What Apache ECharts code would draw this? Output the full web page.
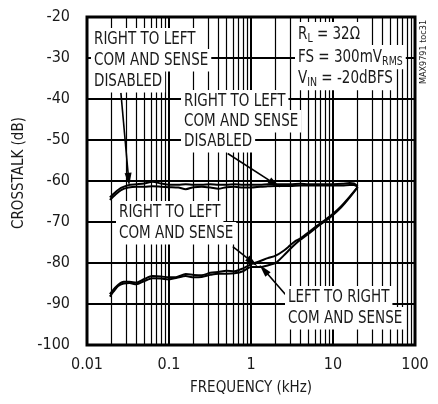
<!DOCTYPE html>
<html>
<head>
<meta charset="utf-8">
<script src="https://cdn.jsdelivr.net/npm/echarts@6/dist/echarts.min.js"></script>
<style>
html,body{margin:0;padding:0;background:#fff;}
#c{width:438px;height:404px;}
</style>
</head>
<body>
<div id="c"></div>
<script>
// ---- data (frequency in kHz, crosstalk in dB) ----
const freqUpper = [0.019,0.022,0.026,0.032,0.04,0.05,0.063,0.08,0.1,0.13,0.16,0.2,0.25,0.32,0.4,0.5,0.63,0.8,1,1.3,1.6,2,3,4,5,7,10,13,16,18,20];
const upperA = [-64.0,-62.8,-61.7,-61.0,-60.8,-60.6,-60.2,-60.6,-60.9,-60.9,-60.8,-60.9,-60.9,-60.8,-60.9,-60.9,-60.8,-60.9,-60.9,-60.9,-60.8,-60.8,-60.8,-60.7,-60.8,-60.8,-60.8,-60.7,-60.5,-60.6,-61.3];
const upperB = [-64.6,-63.4,-62.2,-61.6,-61.4,-61.4,-61.3,-61.4,-61.5,-61.6,-62.0,-61.5,-61.4,-61.6,-61.9,-61.5,-61.4,-61.6,-61.6,-61.4,-61.3,-61.2,-61.2,-61.1,-61.1,-61.1,-61.1,-61.1,-61.0,-61.0,-61.4];
const freqLower = [0.019,0.021,0.024,0.028,0.033,0.04,0.05,0.063,0.08,0.1,0.125,0.16,0.2,0.25,0.32,0.4,0.5,0.63,0.8,1,1.3,1.6,2,2.5,3,3.5,4,5,6.3,8,10,12.5,16,20];
const lowerC = [-87.6,-86.5,-85.3,-84.6,-84.6,-84.8,-83.9,-83.2,-83.3,-83.5,-83.4,-82.7,-82.9,-83.0,-82.4,-82.2,-81.9,-82.0,-81.3,-80.3,-79.5,-78.8,-78.2,-77.0,-75.7,-74.6,-74.0,-72.6,-71.0,-69.5,-68.0,-66.2,-63.8,-61.5];
const lowerD = [-88.2,-87.0,-85.6,-85.0,-84.9,-85.2,-84.4,-83.7,-83.8,-84.0,-83.6,-83.2,-83.5,-83.4,-82.9,-82.6,-82.6,-82.5,-82.0,-81.0,-81.0,-80.6,-80.0,-78.2,-76.6,-75.3,-74.3,-72.9,-71.3,-69.8,-68.3,-66.5,-64.0,-61.5];
const xTickLabels = ['0.01','0.1','1','10','100'];
const yTicks = [-100,-90,-80,-70,-60,-50,-40,-30,-20];
const decades = [0.01,0.1,1,10];
const minorMultipliers = [2,3,4,5,6,7,8,9];

const FONT = '"Liberation Sans Narrow","DejaVu Sans Condensed","Arial Narrow",sans-serif';
const INK = '#1a1a1a';

const zip = (xs, ys) => xs.map((x, i) => [x, ys[i]]);
const minorX = [];
decades.forEach(d => minorMultipliers.forEach(m => minorX.push(+(d * m).toPrecision(3))));

const chart = echarts.init(document.getElementById('c'), null, {renderer: 'canvas'});

const curve = (name, data) => ({
  name, type: 'line', data, showSymbol: false, smooth: 0.25, z: 5,
  lineStyle: {color: '#000', width: 2}
});

function lineText(x, y, text, extra) {
  return Object.assign({
    type: 'text', left: x, top: y, z: 50,
    scaleY: 1.18,
    style: {
      text, font: '15px ' + FONT, fill: INK,
      backgroundColor: '#fff', padding: [2, 3, 2, 3]
    }
  }, extra || {});
}
const richSub = {
  n: {fontSize: 15, fontFamily: FONT, lineHeight: 19, color: INK},
  s: {fontSize: 10.5, fontFamily: FONT, lineHeight: 9, verticalAlign: 'bottom', color: INK}
};
function richText(x, y, text) {
  return {
    type: 'text', left: x, top: y, z: 50, scaleY: 1.15,
    style: {text, rich: richSub, backgroundColor: '#fff', padding: [1, 3, 1, 3], fill: INK}
  };
}

const arrowStyle = {color: '#000', width: 1.6, type: 'solid'};

const option = {
  animation: false,
  backgroundColor: '#fff',
  grid: {left: 87, right: 23, top: 17, bottom: 59, show: true, borderColor: '#000', borderWidth: 3, backgroundColor: 'transparent', z: 10},
  xAxis: {
    type: 'log', logBase: 10, min: 0.01, max: 100,
    name: 'FREQUENCY (kHz)', nameLocation: 'middle', nameGap: 36,
    nameTextStyle: {fontFamily: FONT, fontSize: 15, color: INK},
    axisLine: {show: false}, axisTick: {show: false},
    axisLabel: {
      fontFamily: FONT, fontSize: 16, color: INK, margin: 12,
      formatter: v => {
        const i = Math.round(Math.log10(v)) + 2;
        return xTickLabels[i] !== undefined ? xTickLabels[i] : '';
      }
    },
    splitLine: {show: true, lineStyle: {color: '#000', width: 2}}
  },
  yAxis: {
    type: 'value', min: yTicks[0], max: yTicks[yTicks.length - 1], interval: 10,
    name: 'CROSSTALK (dB)', nameLocation: 'middle', nameGap: 58,
    nameTextStyle: {fontFamily: FONT, fontSize: 15, color: INK, padding: [0, 0, 0, 16]},
    axisLine: {show: false}, axisTick: {show: false},
    axisLabel: {fontFamily: FONT, fontSize: 16, color: INK, margin: 17},
    splitLine: {show: true, lineStyle: {color: '#000', width: 2}}
  },
  series: [
    {
      name: 'minorGrid', type: 'line', data: [], z: 1, silent: true,
      markLine: {
        silent: true, symbol: ['none', 'none'], animation: false,
        label: {show: false},
        lineStyle: {color: '#000', width: 1.2, type: 'solid'},
        data: minorX.map(v => ({xAxis: v}))
      }
    },
    curve('R→L disabled A', zip(freqUpper, upperA)),
    curve('R→L disabled B', zip(freqUpper, upperB)),
    curve('R→L COM and SENSE', zip(freqLower, lowerC)),
    curve('L→R COM and SENSE', zip(freqLower, lowerD)),
    {
      name: 'arrows', type: 'line', data: [], z: 6, silent: true,
      markLine: {
        silent: true, animation: false, symbol: ['none', 'triangle'], symbolSize: [7, 13],
        label: {show: false}, lineStyle: arrowStyle,
        data: [
          [{coord: [0.0259, -38.5]}, {coord: [0.0322, -59.6]}],
          [{coord: [0.52, -53.3]}, {coord: [1.95, -60.7]}],
          [{coord: [0.60, -76.0]}, {coord: [1.04, -79.8]}],
          [{coord: [2.8, -88.3]}, {coord: [1.43, -81.6]}]
        ]
      }
    }
  ],
  graphic: [
    lineText(91, 28, 'RIGHT TO LEFT'),
    lineText(91, 49, 'COM AND SENSE'),
    lineText(91, 70, 'DISABLED'),
    lineText(181, 90, 'RIGHT TO LEFT'),
    lineText(181, 110, 'COM AND SENSE'),
    lineText(181, 130, 'DISABLED'),
    richText(295, 22, '{n|R}{s|L}{n| = 32Ω}'),
    richText(295, 45, '{n|FS = 300mV}{s|RMS}'),
    richText(295, 66, '{n|V}{s|IN}{n| = -20dBFS}'),
    lineText(116, 201, 'RIGHT TO LEFT'),
    lineText(116, 222, 'COM AND SENSE'),
    lineText(285, 286, 'LEFT TO RIGHT'),
    lineText(285, 307, 'COM AND SENSE'),
    {
      type: 'text', x: 424, y: 52, rotation: Math.PI / 2, z: 50,
      style: {text: 'MAX9791 toc31', font: '9px ' + FONT, fill: INK, align: 'center', verticalAlign: 'middle'}
    }
  ]
};
chart.setOption(option);
</script>
</body>
</html>
